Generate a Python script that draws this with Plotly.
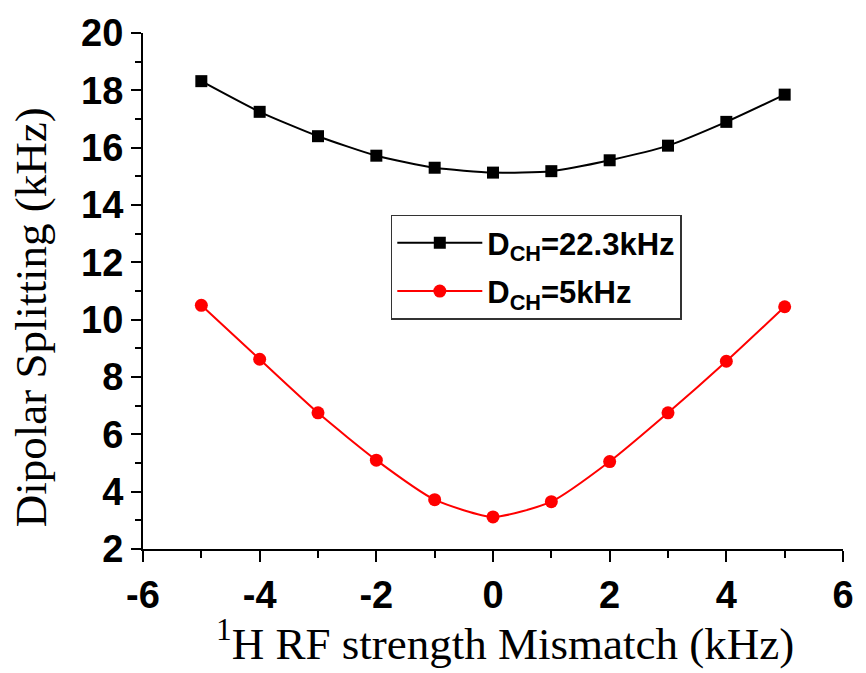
import plotly.graph_objects as go

x_vals = [-5, -4, -3, -2, -1, 0, 1, 2, 3, 4, 5]
d_22 = [18.32, 17.25, 16.4, 15.72, 15.3, 15.13, 15.18, 15.56, 16.07, 16.9, 17.85]
d_5 = [10.5, 8.62, 6.75, 5.1, 3.72, 3.12, 3.65, 5.05, 6.75, 8.55, 10.45]
name_22 = "D<sub>CH</sub>=22.3kHz"
name_5 = "D<sub>CH</sub>=5kHz"
x_ticks = [-6, -4, -2, 0, 2, 4, 6]
y_ticks = [2, 4, 6, 8, 10, 12, 14, 16, 18, 20]
x_title = "<sup>1</sup>H RF strength Mismatch (kHz)"
y_title = "Dipolar Splitting (kHz)"

fig = go.Figure()
fig.add_trace(go.Scatter(
    x=x_vals, y=d_22, name=name_22, mode="lines+markers", legendgroup="a",
    line=dict(color="black", width=2, shape="spline", smoothing=0.6),
    marker=dict(symbol="square", size=12, color="black"),
))
fig.add_trace(go.Scatter(
    x=x_vals, y=d_5, name=name_5, mode="lines+markers", legendgroup="b",
    line=dict(color="#ff0000", width=2, shape="spline", smoothing=0.6),
    marker=dict(symbol="circle", size=13, color="#ff0000"),
))

tick_font = dict(family="Liberation Sans, Arial", size=38, color="black", weight="bold")
title_font = dict(family="Liberation Serif, Times New Roman", size=45, color="black")

fig.update_layout(
    width=866, height=673,
    margin=dict(l=143, r=16, t=32, b=124),
    paper_bgcolor="white", plot_bgcolor="white",
    showlegend=True,
    legend=dict(
        x=0.354, y=0.648, xanchor="left", yanchor="top",
        bgcolor="white", bordercolor="#333333", borderwidth=1.5,
        font=dict(family="Liberation Sans, Arial", size=31, color="black", weight="bold"),
        itemwidth=85,
        tracegroupgap=5,
    ),
    xaxis=dict(
        range=[-6, 6], tickvals=x_ticks, ticktext=[str(v) for v in x_ticks],
        showgrid=False, zeroline=False, showline=True, linecolor="black", linewidth=2,
        ticks="outside", ticklen=11, tickwidth=2, tickcolor="black",
        minor=dict(dtick=1, ticks="outside", ticklen=7, tickwidth=2, tickcolor="black"),
        tickfont=tick_font,
    ),
    yaxis=dict(
        range=[2, 20], tickvals=y_ticks, ticktext=[str(v) for v in y_ticks],
        showgrid=False, zeroline=False, showline=True, linecolor="black", linewidth=2,
        ticks="outside", ticklen=10, tickwidth=2, tickcolor="black",
        minor=dict(dtick=1, ticks="outside", ticklen=6, tickwidth=2, tickcolor="black"),
        tickfont=tick_font,
    ),
    annotations=[
        dict(text=x_title, xref="paper", yref="paper", x=0.5177, y=-0.178,
             xanchor="center", yanchor="middle", showarrow=False, font=title_font),
        dict(text=y_title, xref="paper", yref="paper", x=-0.160, y=0.449,
             xanchor="center", yanchor="middle", showarrow=False, textangle=-90, font=title_font),
    ],
)

fig.write_html("out.html")
